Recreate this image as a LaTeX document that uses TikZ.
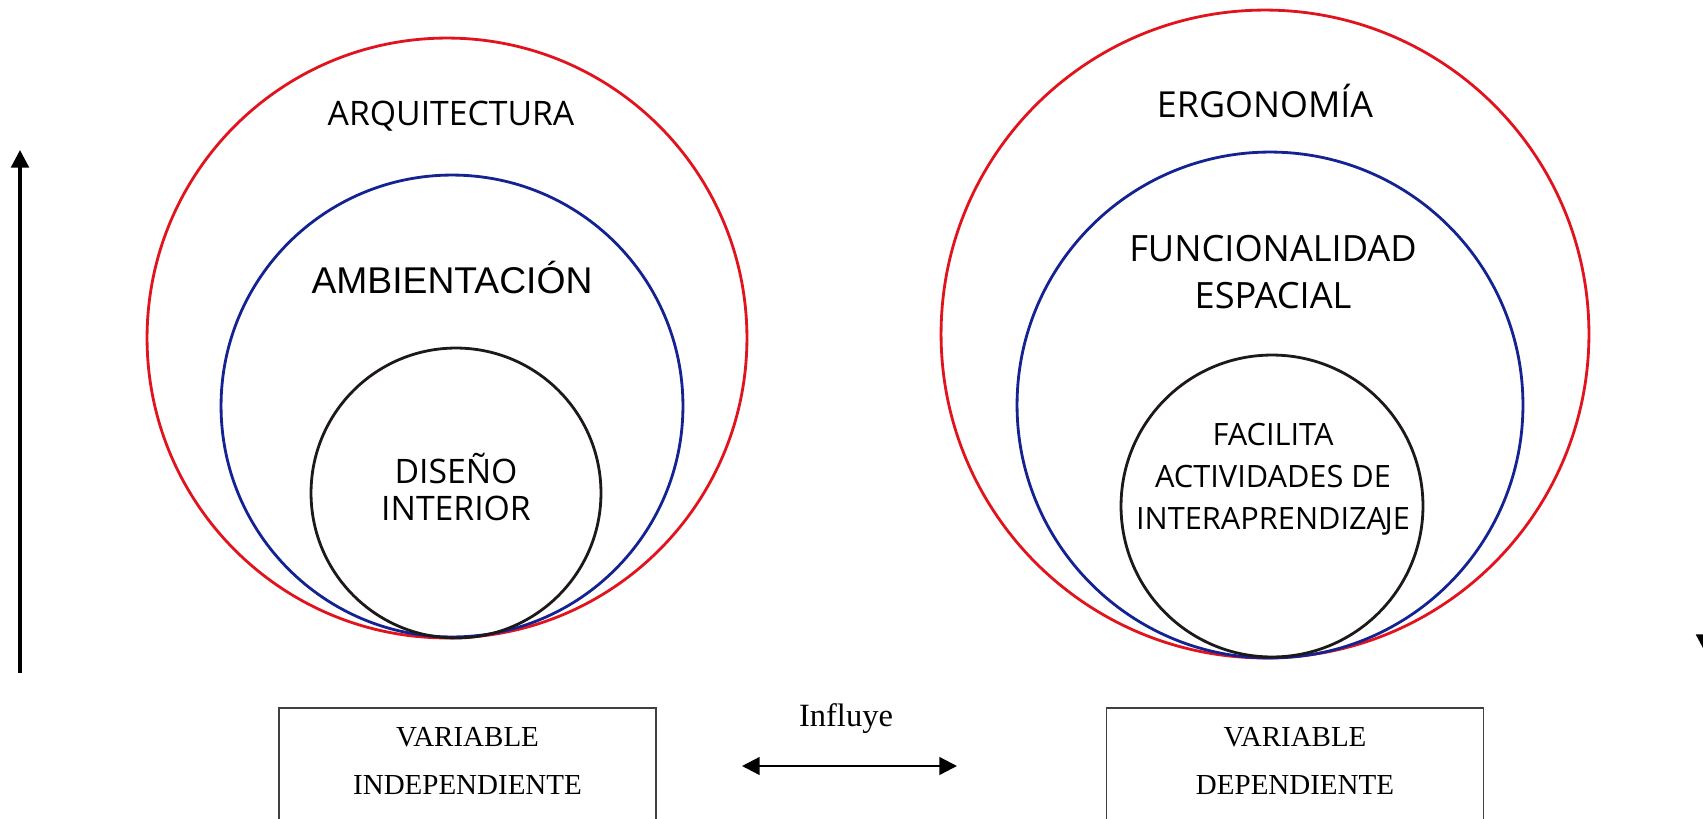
\documentclass[tikz,border=0pt]{standalone}
\usepackage{fontspec}
\setmainfont{Liberation Serif}
\newfontfamily\labelfont{Open Sans}
\newfontfamily\arialfont{Liberation Sans}
\usetikzlibrary{arrows.meta}
\definecolor{ringred}{RGB}{225,20,30}
\definecolor{ringblue}{RGB}{20,35,145}
\definecolor{ringblack}{RGB}{30,25,25}

\begin{document}
\begin{tikzpicture}[x=0.02cm, y=-0.02cm,
    ring/.style={circle, draw=#1, line width=1.6pt, inner sep=0pt},
    ringtext/.style={font=\labelfont\fontsize{19.2}{21.5}\selectfont, align=center, text=black},
    varbox/.style={draw=black!75, line width=0.9pt, minimum width=7.54cm, minimum height=2.8cm, inner sep=0pt},
    vartext/.style={font=\fontsize{16.5}{27.6}\selectfont, align=center},
    tip/.style={-{Triangle[length=10pt, width=10pt]}}]
    \useasboundingbox (0,0) rectangle (1703,818);
    % left group
    \node[ring=ringred, minimum size=12cm] (arqRing) at (447,338) {};
    \node[ring=ringblue, minimum size=9.24cm] (ambRing) at (452,406) {};
    \node[ring=ringblack, minimum size=5.8cm] (disRing) at (456,493) {};
    \node[ringtext] (arq) at (451,116) {ARQUITECTURA};
    \node[ringtext, font=\arialfont\fontsize{21.2}{25}\selectfont] (amb) at (452,278) {AMBIENTACIÓN};
    \node[ringtext] (dis) at (456,487) {DISEÑO\\INTERIOR};
    % right group
    \node[ring=ringred, minimum size=12.96cm] (ergRing) at (1265,334) {};
    \node[ring=ringblue, minimum size=10.12cm] (funRing) at (1270,405) {};
    \node[ring=ringblack, minimum size=6.04cm] (facRing) at (1272,506) {};
    \node[ringtext, font=\labelfont\fontsize{20.4}{26.5}\selectfont] (erg) at (1265,101) {ERGONOMÍA};
    \node[ringtext, font=\labelfont\fontsize{20.6}{26.5}\selectfont] (fun) at (1273,272) {FUNCIONALIDAD\\ESPACIAL};
    \node[ringtext, font=\labelfont\fontsize{17.5}{24}\selectfont] (fac) at (1273,479) {FACILITA\\ACTIVIDADES DE\\INTERAPRENDIZA\kern-0.05em JE};
    % side arrows
    \coordinate (upFoot) at (20,673);
    \coordinate (upHead) at (20,150);
    \draw[tip, line width=1.9pt] (upFoot) -- (upHead);
    \coordinate (downFoot) at (1705,150);
    \coordinate (downHead) at (1705,652);
    \draw[tip, line width=1.9pt] (downFoot) -- (downHead);
    % variables
    \node[varbox, anchor=north] (indepBox) at (467.5,707) {};
    \node[vartext] (indep) at (467.5,761) {VARIABLE\\INDEPENDIENTE};
    \node[varbox, anchor=north] (depBox) at (1295,707) {};
    \node[vartext] (dep) at (1295,761) {VARIABLE\\DEPENDIENTE};
    \node[font=\fontsize{18.5}{22}\selectfont] (influye) at (846,719) {Influye};
    \coordinate (influL) at (742,766);
    \coordinate (influR) at (957,766);
    \draw[{Triangle[length=10pt, width=10pt]}-{Triangle[length=10pt, width=10pt]}, line width=1.3pt] (influL) -- (influR);
\end{tikzpicture}
\end{document}
